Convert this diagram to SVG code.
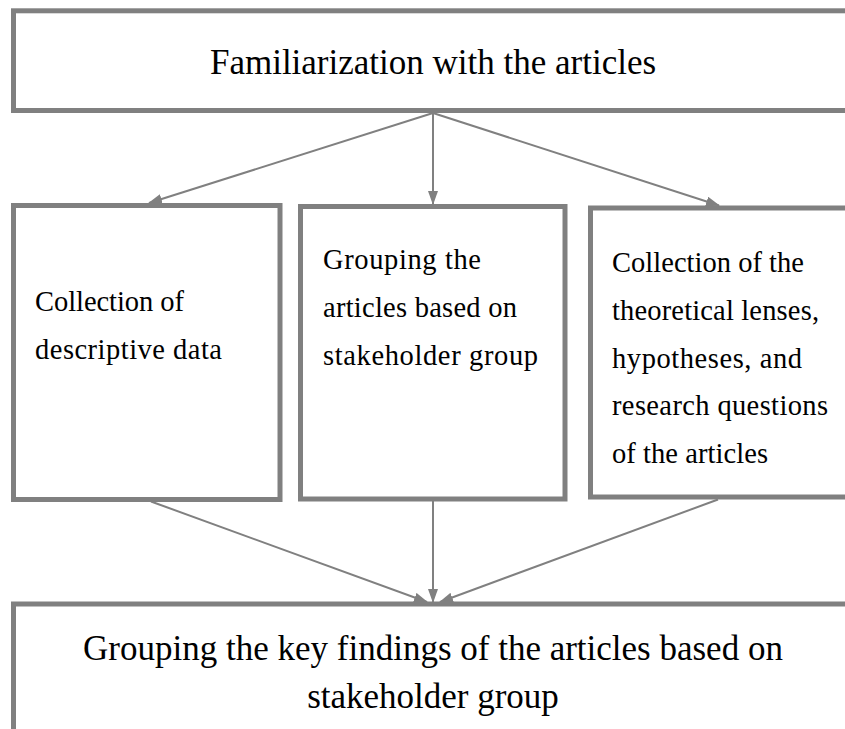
<svg xmlns="http://www.w3.org/2000/svg" width="845" height="729" viewBox="0 0 845 729">
  <style>
    .box { fill: #ffffff; stroke: #808080; stroke-width: 5; }
    .big { font-family: "Liberation Serif", "Times New Roman", serif; font-size: 35px; fill: #000; text-anchor: middle; }
    .small { font-family: "Liberation Serif", "Times New Roman", serif; font-size: 28.5px; fill: #000; }
    .link { stroke: #808080; stroke-width: 2; fill: none; marker-end: url(#head); }
  </style>
  <defs>
    <marker id="head" viewBox="0 0 14 10" refX="13" refY="5" markerWidth="14" markerHeight="10" markerUnits="userSpaceOnUse" orient="auto">
      <path d="M0,0 L14,5 L0,10 Z" fill="#808080"/>
    </marker>
  </defs>
  <rect width="845" height="729" fill="#ffffff"/>

  <g id="familiarization">
    <rect class="box" x="13.5" y="10.8" width="900" height="99.7"/>
    <text class="big" x="433" y="74">Familiarization with the articles</text>
  </g>

  <g id="descriptive-data">
    <rect class="box" x="13.5" y="205.5" width="266.5" height="294"/>
    <text class="small" x="35" y="311" textLength="149" lengthAdjust="spacing">Collection of</text>
    <text class="small" x="35" y="359" textLength="187" lengthAdjust="spacing">descriptive data</text>
  </g>

  <g id="stakeholder-grouping">
    <rect class="box" x="300.5" y="206.5" width="264.5" height="292.5"/>
    <text class="small" x="323" y="269" textLength="158" lengthAdjust="spacing">Grouping the</text>
    <text class="small" x="323" y="317" textLength="194" lengthAdjust="spacing">articles based on</text>
    <text class="small" x="323" y="365" textLength="215" lengthAdjust="spacing">stakeholder group</text>
  </g>

  <g id="theoretical-lenses">
    <rect class="box" x="590.5" y="208" width="300" height="289"/>
    <text class="small" x="612" y="272" textLength="192" lengthAdjust="spacing">Collection of the</text>
    <text class="small" x="612" y="320" textLength="207" lengthAdjust="spacing">theoretical lenses,</text>
    <text class="small" x="612" y="368" textLength="190" lengthAdjust="spacing">hypotheses, and</text>
    <text class="small" x="612" y="415" textLength="216" lengthAdjust="spacing">research questions</text>
    <text class="small" x="612" y="463" textLength="156" lengthAdjust="spacing">of the articles</text>
  </g>

  <g id="key-findings">
    <rect class="box" x="13.5" y="604" width="900" height="200"/>
    <text class="big" x="433" y="660">Grouping the key findings of the articles based on</text>
    <text class="big" x="433" y="708">stakeholder group</text>
  </g>

  <g id="connectors">
    <line class="link" x1="433" y1="113" x2="149" y2="203"/>
    <line class="link" x1="433" y1="113" x2="433" y2="204"/>
    <line class="link" x1="433" y1="113" x2="719" y2="205.5"/>
    <line class="link" x1="151" y1="501.5" x2="427" y2="602"/>
    <line class="link" x1="433" y1="501" x2="433" y2="602"/>
    <line class="link" x1="718" y1="499.5" x2="440" y2="602"/>
  </g>
</svg>
